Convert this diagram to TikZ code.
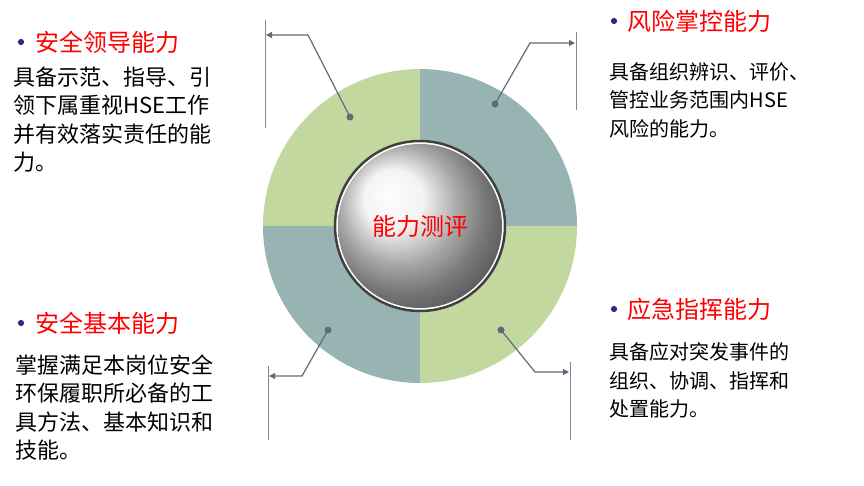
\documentclass[tikz,border=0pt]{standalone}
\usepackage{fontspec}
\setmainfont{Noto Sans CJK SC}
\usetikzlibrary{arrows.meta}
\definecolor{ringgreen}{HTML}{C3D89E}
\definecolor{ringteal}{HTML}{97B4B3}
\definecolor{leadgrey}{HTML}{5E6B78}
\begin{document}
\begin{tikzpicture}[x=1pt,y=-1pt,
    title/.style={anchor=west, text=red, font=\fontsize{24}{28}\selectfont},
    body/.style={anchor=north west, align=left, font=\fontsize{20}{28.5}\selectfont},
    wide/.style={font=\fontsize{22}{28.5}\selectfont},
    lead/.style={draw=leadgrey, line width=1.2pt},
    bracket/.style={draw=leadgrey!80, line width=1pt},
    bullet/.style={circle, fill=leadgrey!60!blue!70!black, inner sep=2.2pt}
  ]
  \useasboundingbox (0,0) rectangle (864,485);
  % ring quarters
  \coordinate (c) at (420,226);
  \begin{scope}
    \clip (263,69) rectangle (420,226);
    \fill[ringgreen] (c) circle[radius=157];
  \end{scope}
  \begin{scope}
    \clip (420,69) rectangle (577,226);
    \fill[ringteal] (c) circle[radius=157];
  \end{scope}
  \begin{scope}
    \clip (263,226) rectangle (420,383);
    \fill[ringteal] (c) circle[radius=157];
  \end{scope}
  \begin{scope}
    \clip (420,226) rectangle (577,383);
    \fill[ringgreen] (c) circle[radius=157];
  \end{scope}
  \fill[white] (c) circle[radius=86];
  \draw[black!75, line width=2.5pt] (c) circle[radius=85];
  % centre ball
  \shade[ball color=white!88!gray] (c) circle[radius=82];
  \node (centre) at (c) {\fontsize{24}{28}\selectfont\textcolor{red}{能力测评}};

  % dots
  \fill[leadgrey] (350,117) circle (3.5pt) coordinate (d1);
  \fill[leadgrey] (495,104) circle (3.5pt) coordinate (d2);
  \fill[leadgrey] (328,330) circle (3.5pt) coordinate (d3);
  \fill[leadgrey] (501,330) circle (3.5pt) coordinate (d4);
  \coordinate (k1) at (308,35);  \coordinate (e1) at (266,35);
  \coordinate (k2) at (530,43);  \coordinate (e2) at (575,43);
  \coordinate (k3) at (302,376); \coordinate (e3) at (269,376);
  \coordinate (k4) at (535,372); \coordinate (e4) at (569,372);
  \draw[lead, -{Triangle[length=6pt,width=6pt]}] (d1) -- (k1) -- (e1);
  \draw[lead, -{Triangle[length=6pt,width=6pt]}] (d2) -- (k2) -- (e2);
  \draw[lead, -{Triangle[length=6pt,width=6pt]}] (d3) -- (k3) -- (e3);
  \draw[lead, -{Triangle[length=6pt,width=6pt]}] (d4) -- (k4) -- (e4);
  \draw[bracket] (265,20) -- (265,128);
  \draw[bracket] (576,32) -- (576,110);
  \draw[bracket] (268,366) -- (268,440);
  \draw[bracket] (570,362) -- (570,440);

  % texts
  \node[bullet] (b1) at (21,42) {};
  \node[title] (t1) at (32,42) {安全领导能力};
  \node[body, wide] (x1) at (10,63) {具备示范、指导、引\\领下属重视HSE工作\\并有效落实责任的能\\力。};
  \node[bullet] (b2) at (614,21) {};
  \node[title] (t2) at (624,21) {风险掌控能力};
  \node[body] (x2) at (606,59) {具备组织辨识、评价、\\管控业务范围内HSE\\风险的能力。};
  \node[bullet] (b3) at (21,323) {};
  \node[title] (t3) at (32,323) {安全基本能力};
  \node[body, wide] (x3) at (12,351) {掌握满足本岗位安全\\环保履职所必备的工\\具方法、基本知识和\\技能。};
  \node[bullet] (b4) at (614,309) {};
  \node[title] (t4) at (624,309) {应急指挥能力};
  \node[body] (x4) at (606,339) {具备应对突发事件的\\组织、协调、指挥和\\处置能力。};
\end{tikzpicture}
\end{document}
